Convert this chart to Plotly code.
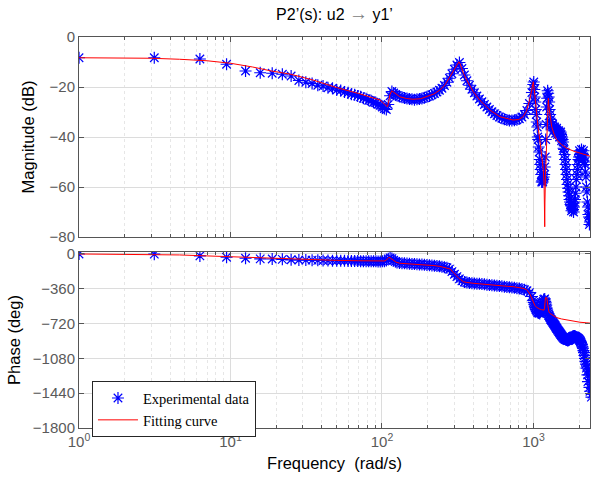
import plotly.graph_objects as go

# ---------------- Experimental data (frequency rad/s, magnitude dB, phase deg) ----------------
exp_w1 = [1, 3.14, 6.28, 9.42, 12.57, 15.71, 18.85, 21.99, 25.13, 28.27,
          31.42, 34.56, 37.70, 40.84, 43.98, 47.12, 50.27, 53.41, 56.55, 59.69,
          62.83, 65.97, 69.12, 72.26, 75.40, 78.54, 81.68, 84.82, 87.96, 91.11,
          94.25, 97.39, 100.53, 103.67, 106.81, 109.96, 113.10, 116.24, 119.38, 122.52,
          125.66]
exp_mag1 = [-8.3, -8.3, -8.8, -10.9, -13.6, -14.3, -14.5, -14.9, -15.6, -17.4,
            -18.1, -18.6, -19.3, -19.6, -20.3, -20.5, -21.2, -21.4, -22.0, -22.3,
            -22.9, -23.1, -23.6, -23.9, -24.5, -24.7, -25.3, -25.5, -26.1, -26.3,
            -26.9, -27.3, -28.0, -28.6, -29.0, -27.0, -23.5, -21.8, -22.4, -23.0,
            -23.4]
exp_ph1 = [0, -2, -20, -34, -44, -50, -52, -55, -60, -62,
           -63, -64, -66, -67, -68, -69, -70, -70, -71, -72,
           -72, -73, -73, -74, -74, -75, -75, -75, -76, -76,
           -77, -77, -76, -74, -68, -50, -40, -48, -65, -78,
           -87]

exp_w2 = [130.4, 135.5, 140.7, 146.2, 151.8, 157.7, 163.8, 170.1, 176.7, 183.5,
          190.6, 198.0, 205.7, 213.6, 221.9, 230.5, 239.4, 248.7, 258.3, 268.3,
          278.7, 289.5, 300.7, 312.3, 324.4, 337.0, 350.0, 363.5, 377.6, 392.2,
          407.4, 423.2, 439.6, 456.6, 474.3, 492.6, 511.7, 531.5, 552.0, 573.4,
          595.6, 618.7, 642.6, 667.5, 693.3, 720.2, 748.0, 777.0, 807.0, 838.3,
          870.8, 904.5, 939.5, 975.9]
exp_mag2 = [-23.8, -24.1, -24.4, -24.6, -24.8, -24.9, -25.1, -24.9, -24.8, -24.6,
            -24.3, -23.9, -23.6, -23.1, -22.6, -22.0, -21.3, -20.5, -19.4, -18.1,
            -16.5, -14.7, -12.9, -11.2, -10.2, -12.6, -15.2, -17.5, -19.3, -20.9,
            -22.3, -23.6, -24.8, -25.9, -27.0, -28.0, -29.0, -29.9, -30.7, -31.4,
            -32.0, -32.5, -32.9, -33.2, -33.4, -33.4, -33.3, -33.1, -32.7, -32.0,
            -31.0, -29.4, -26.6, -22.2]
exp_ph2 = [-92, -95, -97, -99, -101, -103, -104, -106, -108, -110,
           -112, -114, -116, -118, -121, -124, -128, -132, -136, -142,
           -156, -182, -210, -235, -258, -278, -290, -296, -300, -303,
           -305, -307, -309, -311, -314, -317, -320, -323, -326, -329,
           -332, -335, -338, -341, -344, -347, -350, -354, -358, -363,
           -370, -380, -400, -440]

exp_w3 = [997, 1012, 1028, 1043, 1059, 1075, 1091, 1108, 1125, 1142,
          1159, 1177, 1195, 1213, 1231, 1250, 1269, 1288, 1308, 1328,
          1348, 1368, 1389, 1410, 1432, 1453, 1476, 1498, 1521, 1544,
          1568, 1592, 1616, 1640, 1665, 1691, 1716, 1743, 1769, 1796,
          1824, 1851, 1880, 1908, 1937, 1967, 1997, 2027, 2058, 2090,
          2121, 2154, 2187, 2220, 2254, 2288, 2323, 2359, 2395, 2431]
exp_mag3 = [-19.0, -21.0, -26.0, -31.0, -36.0, -41.0, -46.0, -51.0, -55.0, -57.5,
            -57.0, -55.0, -48.0, -35.0, -24.5, -22.5, -26.0, -31.0, -34.0, -35.0,
            -36.0, -36.5, -37.0, -37.0, -37.5, -38.0, -38.0, -38.5, -39.0, -40.0,
            -42.0, -45.0, -49.0, -53.0, -57.0, -60.5, -63.5, -66.0, -67.5, -68.5,
            -69.0, -68.0, -65.0, -60.0, -55.0, -51.0, -48.0, -47.0, -46.5, -46.5,
            -47.0, -48.0, -51.0, -56.0, -62.0, -68.0, -72.0, -74.0, -73.0, -70.0]
exp_ph3 = [-480, -520, -555, -575, -590, -600, -605, -600, -580, -530,
           -490, -475, -490, -530, -580, -620, -640, -660, -680, -695,
           -710, -725, -740, -760, -775, -790, -805, -820, -835, -850,
           -862, -872, -880, -885, -888, -890, -888, -880, -870, -860,
           -852, -850, -852, -858, -865, -872, -880, -895, -915, -940,
           -975, -1020, -1080, -1140, -1160, -1320, -1250, -1420, -1300, -1450]

exp_w4 = [1004, 1020, 1035, 1051, 1067, 1083, 1100, 1116, 1133, 1150,
          1168, 1186, 1204, 1222, 1240, 1260, 1278, 1298, 1318, 1338,
          1358, 1378, 1400, 1421, 1442, 1465, 1487, 1510, 1532, 1556,
          1580, 1604, 1628, 1652, 1678, 1703, 1730, 1756, 1782, 1810,
          1838, 1865, 1894, 1922, 1952, 1982, 2012, 2042, 2074, 2105,
          2138, 2170, 2204, 2237, 2271, 2305, 2341, 2377, 2413]
exp_mag4 = [-18, -24, -29, -34, -40, -44, -49, -53, -58, -58,
            -56, -52, -41, -28, -21.5, -24, -29, -33, -35.5, -35,
            -37.5, -36, -38.5, -36.5, -39, -37.5, -40, -38, -41.5, -41,
            -44.5, -47, -51, -55, -59, -62, -65, -67, -69.5, -68,
            -70, -66, -62.5, -57, -53, -49, -45.5, -48, -45, -49,
            -45.5, -50, -54, -60, -66, -71, -75, -71, -68]
exp_ph4 = [-500, -540, -570, -590, -605, -610, -615, -595, -560, -505,
           -470, -465, -505, -560, -600, -635, -650, -675, -690, -705,
           -720, -735, -752, -770, -785, -800, -815, -830, -845, -858,
           -870, -878, -885, -890, -895, -893, -885, -875, -865, -855,
           -850, -848, -855, -862, -870, -878, -890, -905, -930, -960,
           -1000, -1050, -1110, -1180, -1250, -1200, -1380, -1350, -1480]

# ---------------- Fitting curve ----------------
fit_w = [1, 2, 3, 4.6, 7, 10, 14, 18.3, 25, 35,
         50, 70, 97, 101, 104, 107, 109, 111, 113, 116,
         119, 124, 131, 145, 160, 180, 198, 220, 241, 260,
         281, 295, 308, 316, 322, 328, 336, 345, 362, 381,
         400, 443, 517, 601, 680, 732, 800, 853, 900, 920,
         950, 973, 997, 1020, 1045, 1071, 1100, 1130, 1161, 1175,
         1183, 1186, 1190, 1200, 1215, 1230, 1240, 1253, 1265, 1285,
         1319, 1370, 1423, 1530, 1656, 1850, 2028, 2250, 2432]
fit_mag = [-8.3, -8.4, -8.5, -8.9, -9.5, -10.5, -12.0, -13.5, -14.9, -17.2,
           -20.2, -22.6, -25.2, -26.2, -27.0, -27.6, -27.8, -25.5, -23.0, -21.5,
           -22.0, -22.8, -23.9, -24.6, -24.9, -24.7, -23.9, -22.8, -21.2, -19.2,
           -15.9, -13.8, -11.9, -10.6, -9.9, -10.8, -12.6, -14.5, -17.2, -19.9,
           -21.8, -25.3, -29.3, -31.9, -32.9, -33.2, -33.0, -31.9, -29.6, -27.9,
           -24.5, -21.2, -17.9, -23.0, -30.0, -35.9, -41.0, -46.5, -53.0, -59.0,
           -68.0, -75.9, -66.0, -55.0, -45.0, -36.0, -29.0, -24.5, -28.0, -32.0,
           -35.9, -39.0, -41.2, -43.0, -44.5, -45.7, -46.5, -47.3, -47.9]
fit_ph = [0, -3, -6, -10, -20, -28, -40, -48, -55, -62,
          -66, -70, -74, -74, -72, -62, -45, -35, -40, -55,
          -70, -85, -96, -100, -104, -109, -114, -120, -128, -138,
          -155, -190, -225, -242, -252, -262, -278, -287, -294, -300,
          -303, -309, -321, -330, -335, -338, -345, -355, -370, -385,
          -420, -460, -493, -530, -550, -562, -570, -576, -579, -580,
          -560, -520, -470, -452, -448, -470, -520, -580, -600, -615,
          -628, -645, -658, -672, -683, -697, -706, -712, -717]

exp_w = exp_w1 + exp_w2 + exp_w3 + exp_w4
exp_mag = exp_mag1 + exp_mag2 + exp_mag3 + exp_mag4
exp_ph = exp_ph1 + exp_ph2 + exp_ph3 + exp_ph4
assert len(exp_w) == len(exp_mag) == len(exp_ph)
assert len(fit_w) == len(fit_mag) == len(fit_ph)

mag_ticks = [-80, -60, -40, -20, 0]
phase_ticks = [-1800, -1440, -1080, -720, -360, 0]
x_ticks = [1, 10, 100, 1000]
x_ticktext = ["10<sup>0</sup>", "10<sup>1</sup>", "10<sup>2</sup>", "10<sup>3</sup>"]

FONT = "Liberation Sans, Arial, Helvetica, sans-serif"
AXC = "#555555"
TXC = "#5a5a5a"
GRID = "#dcdcdc"

minor_vals = [m * d for d in [1, 10, 100, 1000] for m in range(2, 10) if m * d < 2500]

star = dict(symbol="asterisk-open", size=10, color="#0000ff",
            line=dict(color="#0000ff", width=1.2))

fig = go.Figure()
fig.add_trace(go.Scatter(x=exp_w, y=exp_mag, mode="markers", marker=star,
                         name="Experimental data", showlegend=False,
                         xaxis="x", yaxis="y"))
fig.add_trace(go.Scatter(x=fit_w, y=fit_mag, mode="lines",
                         line=dict(color="#ff0000", width=1),
                         name="Fitting curve", showlegend=False,
                         xaxis="x", yaxis="y"))
fig.add_trace(go.Scatter(x=exp_w, y=exp_ph, mode="markers", marker=star,
                         name="Experimental data", showlegend=True,
                         xaxis="x2", yaxis="y2"))
fig.add_trace(go.Scatter(x=fit_w, y=fit_ph, mode="lines",
                         line=dict(color="#ff0000", width=1),
                         name="Fitting curve", showlegend=True,
                         xaxis="x2", yaxis="y2"))

xcommon = dict(type="log", range=[0, 3.373], showline=True, linecolor=AXC, linewidth=1,
               mirror="allticks", ticks="inside", ticklen=5, tickcolor=AXC,
               showgrid=True, gridcolor=GRID, gridwidth=1, zeroline=False,
               tickvals=x_ticks,
               minor=dict(tickvals=minor_vals, ticks="inside", ticklen=3, tickcolor=AXC,
                          showgrid=True, gridcolor="#e6e6e6", griddash="dot"))
ycommon = dict(showline=True, linecolor=AXC, linewidth=1, mirror="allticks",
               ticks="inside", ticklen=5, tickcolor=AXC, showgrid=True,
               gridcolor=GRID, gridwidth=1, zeroline=False,
               tickfont=dict(family=FONT, size=15, color=TXC))

fig.update_layout(
    width=592, height=487,
    margin=dict(l=79, r=2, t=37, b=59),
    template="none",
    paper_bgcolor="white", plot_bgcolor="white",
    font=dict(family=FONT, color="#000000"),
    title=dict(text="P2’(s): u2 <span style='color:#808080;font-size:19px'>→</span> y1’",
               x=0.5, xref="paper", y=1 - 14 / 487, yref="container",
               xanchor="center", yanchor="middle",
               font=dict(family=FONT, size=16, color="#000000")),
    xaxis=dict(**xcommon, domain=[0, 1], anchor="y", showticklabels=False),
    yaxis=dict(**ycommon, domain=[0.4885, 1], anchor="x", range=[-80, 0],
               tickvals=mag_ticks,
               title=dict(text="Magnitude (dB)", standoff=10,
                          font=dict(family=FONT, size=16.5, color="#000000"))),
    xaxis2=dict(**xcommon, domain=[0, 1], anchor="y2", ticktext=x_ticktext,
                tickfont=dict(family=FONT, size=15, color=TXC),
                title=dict(text="Frequency \u00a0(rad/s)", standoff=8,
                           font=dict(family=FONT, size=16.5, color="#000000"))),
    yaxis2=dict(**ycommon, domain=[0, 0.450], anchor="x2", range=[-1800, 20],
                tickvals=phase_ticks,
                title=dict(text="Phase (deg)", standoff=8,
                           font=dict(family=FONT, size=16.5, color="#000000"))),
    legend=dict(x=0.0254, y=0.120, xanchor="left", yanchor="top",
                bgcolor="white", bordercolor="#262626", borderwidth=1,
                font=dict(family="Liberation Serif, Times New Roman, serif", size=14.5,
                          color="#000000"),
                tracegroupgap=0, itemwidth=40),
)

fig.write_html("out.html")
